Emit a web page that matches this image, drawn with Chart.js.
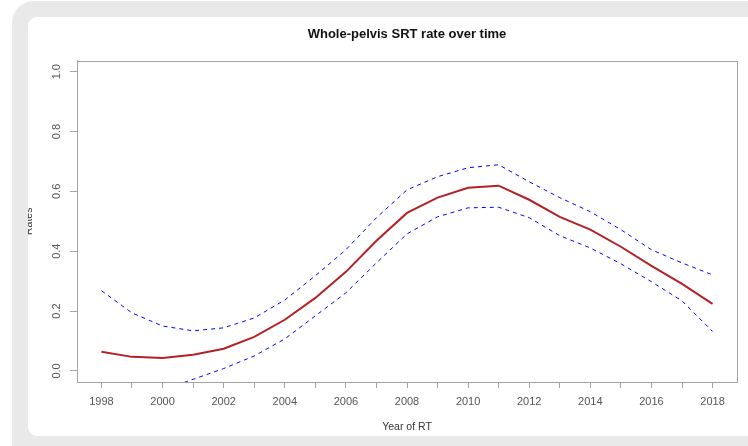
<!DOCTYPE html>
<html>
<head>
<meta charset="utf-8">
<script src="https://cdn.jsdelivr.net/npm/chart.js@4"></script>
<style>
  html, body { margin: 0; padding: 0; background: #fff; overflow: hidden; }
  #frame { position: absolute; left: 12px; top: 1px; width: 800px; height: 500px; background: #e9e9e9; border-radius: 22px; }
  #panel { position: absolute; left: 28px; top: 17px; width: 760px; height: 419px; background: #fff; border-radius: 9px; overflow: hidden; }
  #chart { position: absolute; left: -28px; top: -17px; }
</style>
</head>
<body>
<div id="frame"></div>
<div id="panel"><canvas id="chart" width="748" height="446"></canvas></div>
<script>
// values
const years = [1998, 1999, 2000, 2001, 2002, 2003, 2004, 2005, 2006, 2007, 2008,
               2009, 2010, 2011, 2012, 2013, 2014, 2015, 2016, 2017, 2018];
const srtRate = [0.064, 0.047, 0.043, 0.054, 0.074, 0.114, 0.171, 0.244, 0.331, 0.435, 0.528,
                 0.579, 0.612, 0.619, 0.572, 0.515, 0.472, 0.415, 0.351, 0.291, 0.224];
const upperCI = [0.268, 0.194, 0.150, 0.134, 0.144, 0.177, 0.237, 0.318, 0.405, 0.512, 0.605,
                 0.649, 0.679, 0.689, 0.632, 0.579, 0.532, 0.472, 0.405, 0.361, 0.321];
const lowerCI = [-0.14, -0.10, -0.064, -0.028, 0.008, 0.050, 0.107, 0.184, 0.261, 0.361, 0.458,
                 0.515, 0.545, 0.547, 0.512, 0.452, 0.411, 0.358, 0.298, 0.234, 0.132];
const xTickLabels = ['1998', '2000', '2002', '2004', '2006', '2008', '2010', '2012', '2014', '2016', '2018'];
const yTicks = [0, 0.2, 0.4, 0.6, 0.8, 1.0];
const yTickLabels = ['0.0', '0.2', '0.4', '0.6', '0.8', '1.0'];

const axisGrey = '#a3a3a3';
const labelGrey = '#555';
const fontFamily = '"Liberation Sans", Arial, sans-serif';

function points(values) {
    return years.map((yr, i) => ({ x: yr, y: values[i] }));
}

// box around the plot region and the rotated y tick labels (R style)
const rStyle = {
    id: 'rStyle',
    afterDraw(chart) {
        const ctx = chart.ctx;
        const area = chart.chartArea;
        const yScale = chart.scales.y;
        ctx.save();
        ctx.strokeStyle = axisGrey;
        ctx.lineWidth = 1;
        ctx.strokeRect(Math.round(area.left) + 0.5, Math.round(area.top) + 0.5,
                       Math.round(area.right - area.left), Math.round(area.bottom - area.top));
        ctx.fillStyle = labelGrey;
        ctx.font = '11px ' + fontFamily;
        ctx.textAlign = 'center';
        ctx.textBaseline = 'middle';
        yTicks.forEach((v, i) => {
            ctx.save();
            ctx.translate(57, yScale.getPixelForValue(v));
            ctx.rotate(-Math.PI / 2);
            ctx.fillText(yTickLabels[i], 0, 0);
            ctx.restore();
        });
        ctx.restore();
    }
};

const ctx = document.getElementById('chart').getContext('2d');

new Chart(ctx, {
    type: 'line',
    data: {
        datasets: [
            {
                label: 'Upper',
                data: points(upperCI),
                borderColor: '#0000ff',
                borderWidth: 1,
                borderDash: [4, 4],
                pointRadius: 0,
                tension: 0
            },
            {
                label: 'Lower',
                data: points(lowerCI),
                borderColor: '#0000ff',
                borderWidth: 1,
                borderDash: [4, 4],
                pointRadius: 0,
                tension: 0
            },
            {
                label: 'Rate',
                data: points(srtRate),
                borderColor: '#b52025',
                borderWidth: 2,
                pointRadius: 0,
                tension: 0
            }
        ]
    },
    options: {
        responsive: false,
        animation: false,
        layout: { padding: { left: 0, right: 11, top: 0, bottom: 0 } },
        plugins: {
            legend: { display: false },
            tooltip: { enabled: false },
            title: {
                display: true,
                fullSize: false, // centre over the plot region like R
                text: 'Whole-pelvis SRT rate over time',
                color: '#111',
                font: { family: fontFamily, size: 13, weight: 'bold' },
                padding: { top: 27, bottom: 18 }
            }
        },
        scales: {
            x: {
                type: 'linear',
                min: 1997.2,
                max: 2018.8,
                afterBuildTicks: s => { s.ticks = years.map(v => ({ value: v })); },
                afterFit: s => { s.height = 64; },
                grid: { drawOnChartArea: false, drawTicks: true, tickLength: 6, color: axisGrey },
                border: { display: true, color: axisGrey },
                ticks: {
                    autoSkip: false,
                    maxRotation: 0,
                    padding: 7,
                    color: labelGrey,
                    font: { family: fontFamily, size: 11 },
                    callback: v => xTickLabels.includes(String(v)) ? String(v) : ''
                },
                title: {
                    display: true,
                    text: 'Year of RT',
                    color: '#333',
                    font: { family: fontFamily, size: 10.5 },
                    padding: { top: 0, bottom: 13 }
                }
            },
            y: {
                min: -0.037,
                max: 1.037,
                afterBuildTicks: s => { s.ticks = yTicks.map(v => ({ value: v })); },
                afterFit: s => { s.width = 77; },
                grid: { drawOnChartArea: false, drawTicks: true, tickLength: 7, color: axisGrey },
                border: { display: true, color: axisGrey },
                ticks: { display: false },
                title: {
                    display: true,
                    text: 'Rates',
                    color: '#333',
                    font: { family: fontFamily, size: 10.5 },
                    padding: { top: 23, bottom: 0 }
                }
            }
        }
    },
    plugins: [rStyle]
});
</script>
</body>
</html>
